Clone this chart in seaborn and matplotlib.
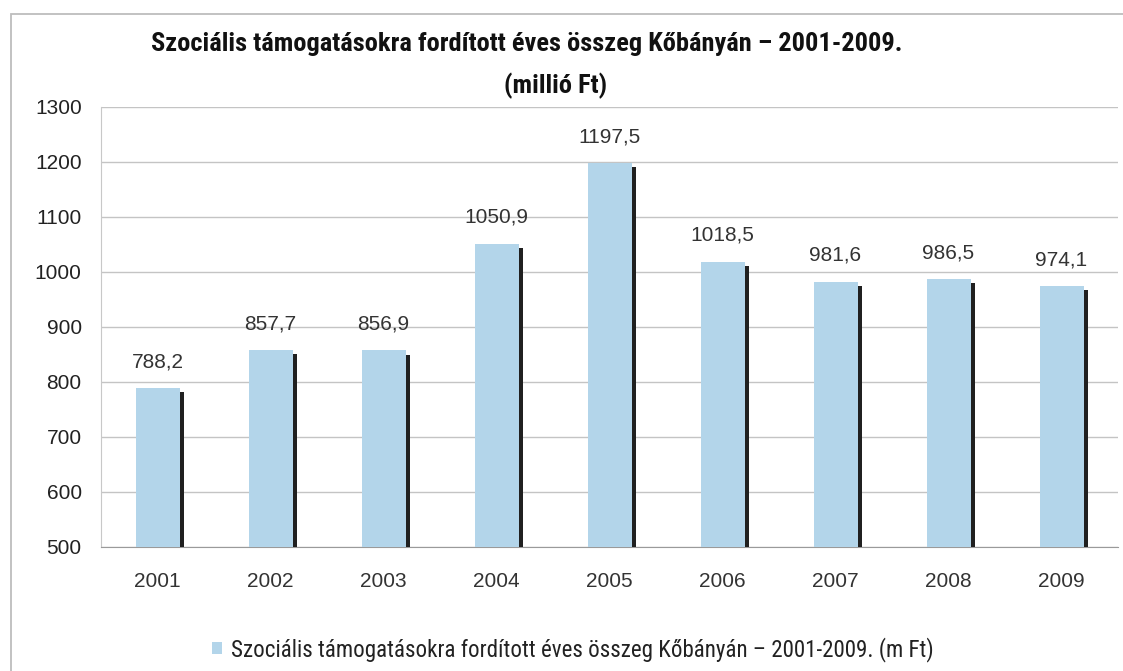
import matplotlib
matplotlib.use("Agg")
import matplotlib.pyplot as plt
import matplotlib.patheffects as pe
from matplotlib.patches import Rectangle, Patch
import pandas as pd
import seaborn as sns

years = ["2001", "2002", "2003", "2004", "2005", "2006", "2007", "2008", "2009"]
amounts = [788.2, 857.7, 856.9, 1050.9, 1197.5, 1018.5, 981.6, 986.5, 974.1]
y_ticks = [500, 600, 700, 800, 900, 1000, 1100, 1200, 1300]

title_line1 = "Szociális támogatásokra fordított éves összeg Kőbányán – 2001-2009."
title_line2 = "(millió Ft)"
legend_label = "Szociális támogatásokra fordított éves összeg Kőbányán – 2001-2009. (m Ft)"

bar_color = "#b3d5ea"
narrow = ["Roboto Condensed", "Liberation Sans", "DejaVu Sans"]
regular = ["Liberation Sans", "DejaVu Sans"]

df = pd.DataFrame({"year": years, "amount": amounts})

sns.set_style("white")
plt.rcParams["font.family"] = regular

fig = plt.figure(figsize=(11.23, 6.71), dpi=100)
ax = fig.add_axes([0.09, 0.185, 0.9056, 0.656])

sns.barplot(data=df, x="year", y="amount", color=bar_color, width=0.39,
            saturation=1, linewidth=0, ax=ax, zorder=3)

# dark drop shadow on the right side of each bar
for bar in ax.patches:
    bar.set_path_effects([
        pe.SimplePatchShadow(offset=(3.4, -3), shadow_rgbFace="#202020", alpha=1.0),
        pe.Normal(),
    ])

# data labels, decimal comma
for i, v in enumerate(amounts):
    ax.annotate(f"{v:.1f}".replace(".", ","), (i, v), xytext=(0, 19),
                textcoords="offset points", ha="center", va="center",
                fontsize=15, color="#333333")

ax.set_ylim(500, 1300)
ax.set_yticks(y_ticks)
ax.set_xlim(-0.5, len(years) - 0.5)
ax.yaxis.grid(True, color="#c4c4c4", linewidth=1.0, zorder=0)
ax.set_axisbelow(True)

ax.set_xlabel("")
ax.set_ylabel("")
ax.tick_params(axis="y", length=0, pad=14, labelsize=15, labelcolor="#222222")
ax.tick_params(axis="x", length=0, pad=18, labelsize=15, labelcolor="#333333")

for side in ["top", "right"]:
    ax.spines[side].set_visible(False)
ax.spines["left"].set_color("#c8c8c8")
ax.spines["bottom"].set_color("#9a9a9a")

fig.text(0.469, 0.935, title_line1, ha="center", va="center", fontsize=19,
         fontweight="bold", color="#111111", family=narrow)
fig.text(0.495, 0.872, title_line2, ha="center", va="center", fontsize=19,
         fontweight="bold", color="#111111", family=narrow)

handle = Patch(facecolor=bar_color, edgecolor="none")
fig.legend([handle], [legend_label], loc="center", bbox_to_anchor=(0.51, 0.032),
           frameon=False, handlelength=0.45, handleheight=0.45,
           handletextpad=0.4, labelcolor="#222222",
           prop={"family": narrow, "size": 16.6})

fig.add_artist(Rectangle((0.0095, -0.1), 1.1, 1.079, transform=fig.transFigure,
                         fill=False, edgecolor="#bdbdbd", linewidth=1.3))

fig.savefig("out.png", dpi=100, facecolor="white")
